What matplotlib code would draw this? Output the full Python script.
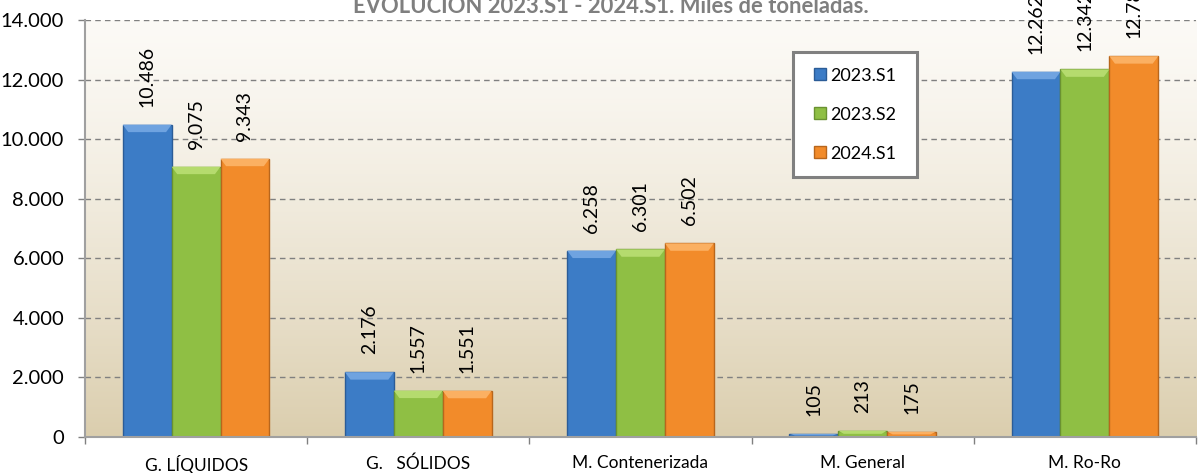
import numpy as np
import matplotlib
matplotlib.use('Agg')
import matplotlib.pyplot as plt
from matplotlib.patches import Patch, Rectangle, Polygon

plt.rcParams['font.family'] = ['Lato', 'DejaVu Sans']

# datos (miles de toneladas)
categorias = ['G. LÍQUIDOS', 'G.   SÓLIDOS', 'M. Contenerizada', 'M. General', 'M. Ro-Ro']
series = ['2023.S1', '2023.S2', '2024.S1']
s2023_1 = [10486, 2176, 6258, 105, 12262]
s2023_2 = [9075, 1557, 6301, 213, 12342]
s2024_1 = [9343, 1551, 6502, 175, 12785]
y_ticks = [0, 2000, 4000, 6000, 8000, 10000, 12000, 14000]

colores = ['#3C7CC6', '#8FBF44', '#F28B2A']
claros = ['#6FA3E0', '#B5DB6E', '#FBB062']
bordes = ['#2B5C97', '#6A9231', '#B8661C']


def miles(v):
    return f"{v:,}".replace(',', '.')


fig = plt.figure(figsize=(12, 4.73), dpi=100)
ax = fig.add_axes([0.0708, 0.0761, 0.9259, 0.8816])

# fondo degradado del area de trazado
grad = np.linspace(0, 1, 256).reshape(-1, 1)
top = np.array([252, 250, 246]) / 255
bot = np.array([219, 206, 174]) / 255
img = top + (bot - top) * grad[..., None] ** 1.3
ax.imshow(img, extent=[-0.5, 4.5, 0, 14000], aspect='auto', zorder=0, origin='upper')

x = np.arange(len(categorias))
w = 0.22
bisel_y = 250   # altura del bisel superior (unidades de datos)
bisel_x = 0.025
for i, vals in enumerate([s2023_1, s2023_2, s2024_1]):
    pos = x + (i - 1) * w
    ax.bar(pos, vals, width=w, color=colores[i], edgecolor=bordes[i],
           linewidth=1.0, zorder=2, label=series[i])
    for px, v in zip(pos, vals):
        # bisel claro en la parte superior de la barra
        h = min(bisel_y, v * 0.5)
        l, r = px - w / 2, px + w / 2
        ax.add_patch(Polygon([[l, v], [r, v], [r - bisel_x, v - h], [l + bisel_x, v - h]],
                             closed=True, facecolor=claros[i], edgecolor='none', zorder=2.5))
        ax.annotate(miles(v), (px, v), xytext=(0, 13), textcoords='offset points',
                    rotation=90, ha='center', va='bottom', fontsize=14,
                    annotation_clip=False, clip_on=False)

ax.set_xlim(-0.5, 4.5)
ax.set_ylim(0, 14000)
ax.set_yticks(y_ticks)
ax.set_yticklabels([miles(t) for t in y_ticks])
ax.yaxis.grid(True, linestyle='--', color='#808080', linewidth=1.0, dashes=(4, 3))
ax.set_axisbelow(True)

ax.set_xticks(np.arange(-0.5, 5, 1))
ax.set_xticklabels([])
ax.set_xticks(x, minor=True)
ax.set_xticklabels(categorias, minor=True, fontsize=12.5)
ax.tick_params(axis='x', which='minor', length=0, pad=13)
ax.tick_params(axis='x', which='major', length=5, color='#808080', width=1)
ax.tick_params(axis='y', length=5, color='#808080', width=1, pad=10, labelsize=14.5)

for s in ['top', 'right']:
    ax.spines[s].set_visible(False)
ax.spines['left'].set_color('#A0A0A0')
ax.spines['bottom'].set_color('#A0A0A0')
ax.spines['left'].set_linewidth(1.5)
ax.spines['bottom'].set_linewidth(1.5)

# marco de la leyenda
ax.add_patch(Rectangle((0.637, 0.6235), 0.112, 0.2995, transform=ax.transAxes,
                       facecolor='white', edgecolor='#808080', linewidth=2.2,
                       zorder=4, clip_on=False))
handles = [Patch(facecolor=colores[i], edgecolor=bordes[i], label=series[i]) for i in range(3)]
leg = ax.legend(handles=handles, loc='center', bbox_to_anchor=(0.693, 0.773),
                fontsize=13, frameon=False, handlelength=0.65, handleheight=0.65,
                handletextpad=0.25, labelspacing=1.28, borderpad=0)
leg.set_zorder(5)

fig.text(0.509, 0.9725, 'EVOLUCIÓN 2023.S1 - 2024.S1. Miles de toneladas.',
         ha='center', va='baseline', fontsize=15.8, fontweight='bold', color='#7F7F7F')

fig.savefig('out.png', dpi=100)
